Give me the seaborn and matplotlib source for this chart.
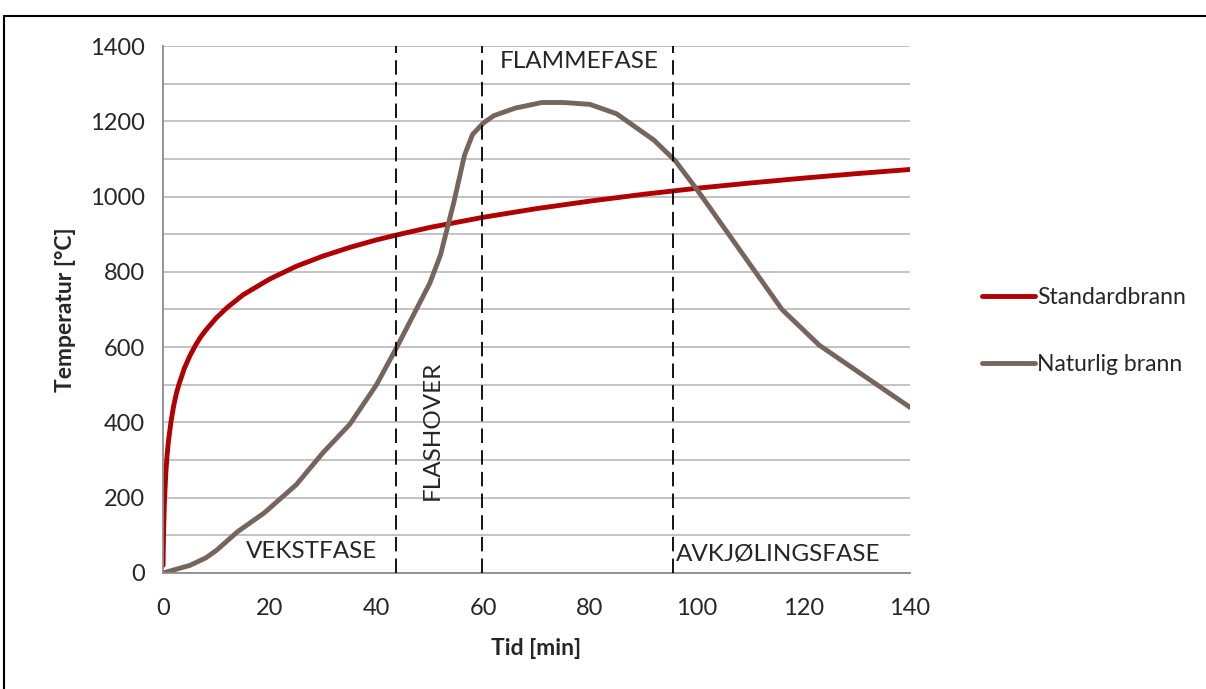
import numpy as np
import pandas as pd
import matplotlib.pyplot as plt
import seaborn as sns
from matplotlib.ticker import MultipleLocator
from matplotlib.patches import Rectangle

# Data
std_time = [0, 0.1, 0.25, 0.5, 0.75, 1, 1.5, 2, 2.5, 3, 4, 5, 6, 7, 8, 10, 12, 15, 20, 25, 30, 35,
            40, 45, 50, 60, 70, 80, 90, 100, 110, 120, 130, 140]
std_temp = [20, 110, 185, 261, 312, 349, 403, 445, 477, 502, 544, 576, 603, 626, 645, 678, 705, 739,
            781, 815, 842, 865, 885, 902, 918, 945, 968, 988, 1006, 1022, 1036, 1049, 1061, 1072]

nat_time = [0, 5, 8, 10, 14, 19, 25, 30, 35, 40, 44, 50, 52, 54.5, 56.5, 58, 60, 62, 66, 71, 75,
            80, 85, 92, 96, 100, 116, 123, 140]
nat_temp = [0, 20, 40, 60, 110, 160, 235, 320, 395, 500, 605, 770, 845, 985, 1110, 1165, 1195,
            1215, 1235, 1250, 1250, 1245, 1220, 1150, 1095, 1020, 700, 605, 440]

phase_lines = [43.7, 59.8, 95.6]

series_names = ["Standardbrann", "Naturlig brann"]
colors = {"Standardbrann": "#B00000", "Naturlig brann": "#76655C"}

df = pd.concat([
    pd.DataFrame({"Tid": std_time, "Temp": std_temp, "Serie": series_names[0]}),
    pd.DataFrame({"Tid": nat_time, "Temp": nat_temp, "Serie": series_names[1]}),
])

sns.set_style("white")
plt.rcParams["font.family"] = ["Lato", "DejaVu Sans"]

fig = plt.figure(figsize=(12.06, 6.89), dpi=100)
ax = fig.add_axes([0.1352, 0.1684, 0.6194, 0.7648])

sns.lineplot(data=df, x="Tid", y="Temp", hue="Serie", palette=colors,
             linewidth=3.5, ax=ax, legend=False, sort=False)
for line in ax.lines:
    line.set_solid_joinstyle("round")
    line.set_solid_capstyle("round")

for x in phase_lines:
    ax.axvline(x, color="black", linestyle=(0, (8, 4)), linewidth=1.3, zorder=3)

ax.set_xlim(0, 140)
ax.set_ylim(0, 1400)
ax.xaxis.set_major_locator(MultipleLocator(20))
ax.xaxis.set_minor_locator(MultipleLocator(5))
ax.yaxis.set_major_locator(MultipleLocator(200))
ax.yaxis.set_minor_locator(MultipleLocator(100))
ax.grid(True, which="both", axis="y", color="#BEBEBE", linewidth=1.3)
ax.set_axisbelow(True)

for s in ["top", "right"]:
    ax.spines[s].set_visible(False)
for s in ["left", "bottom"]:
    ax.spines[s].set_color("#8C8C8C")
    ax.spines[s].set_linewidth(1.3)

ax.tick_params(axis="x", which="both", direction="out", length=6, color="#8C8C8C",
               labelsize=17, pad=12)
ax.tick_params(axis="y", which="major", direction="out", length=6, color="#8C8C8C",
               labelsize=17, pad=7)
ax.tick_params(axis="y", which="minor", length=0)

ax.set_xlabel("Tid [min]", fontsize=16.5, fontweight="bold", labelpad=14)
ax.set_ylabel("Temperatur [°C]", fontsize=16.5, fontweight="bold", labelpad=10)

# phase labels
ax.text(15.6, 56, "VEKSTFASE", fontsize=17.5, va="center", ha="left")
ax.text(50.4, 380, "FLASHOVER", fontsize=17.5, va="center", ha="center", rotation=90)
ax.text(78, 1358, "FLAMMEFASE", fontsize=17.5, va="center", ha="center")
ax.text(96.1, 48, "AVKJØLINGSFASE", fontsize=17.5, va="center", ha="left")

# legend
handles = [plt.Line2D([], [], color=colors[n], linewidth=3.5, solid_capstyle="round")
           for n in series_names]
fig.legend(handles, series_names, loc="center left", bbox_to_anchor=(0.797, 0.52),
           frameon=False, fontsize=16.5, handlelength=2.3, handletextpad=0.1,
           labelspacing=2.0)

# outer frame
fig.patches.append(Rectangle((4 / 1206, -0.05), 1.2, (689 - 16) / 689 + 0.05,
                             transform=fig.transFigure, fill=False,
                             edgecolor="black", linewidth=1.5))

fig.savefig("out.png", dpi=100)
